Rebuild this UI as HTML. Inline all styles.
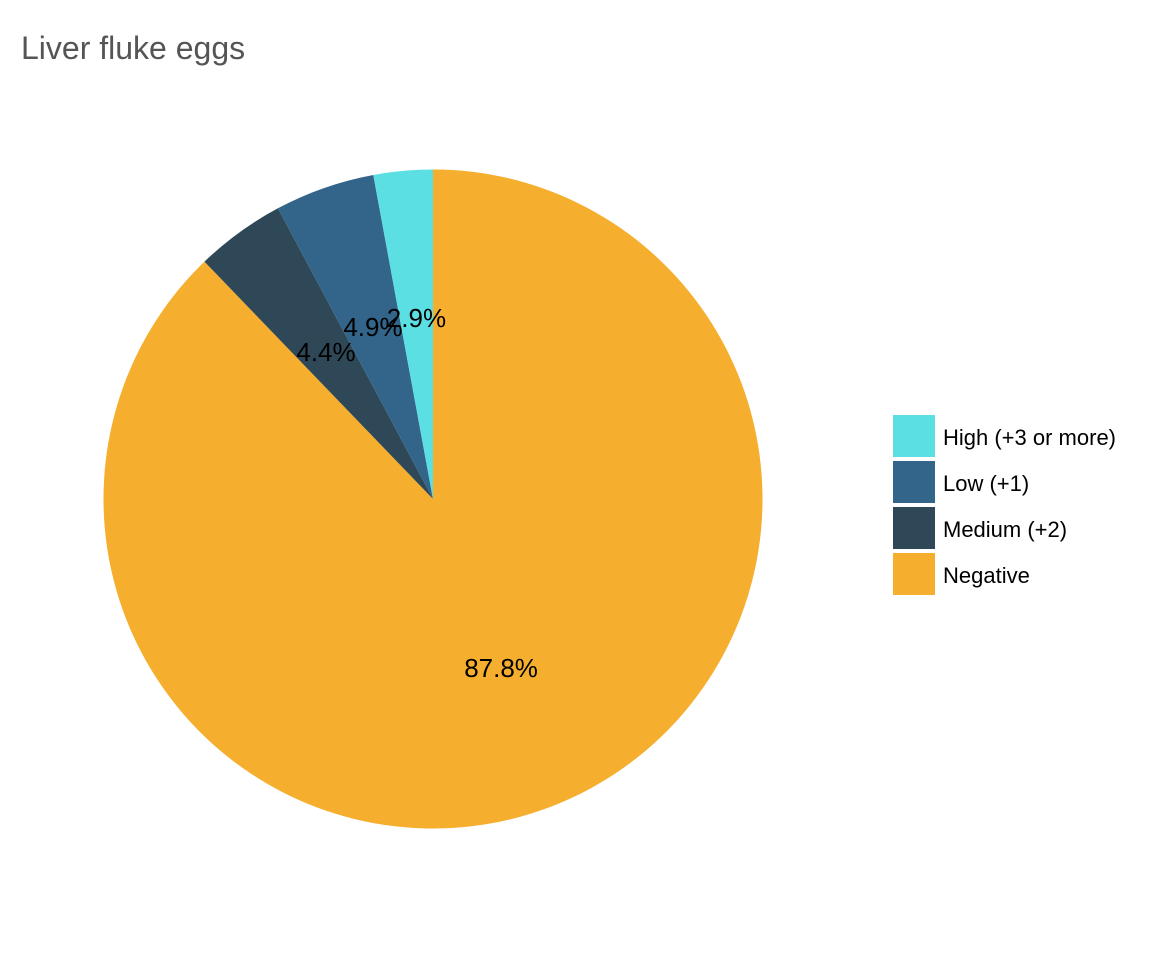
<!DOCTYPE html>
<html><head><meta charset="utf-8"><style>
body{margin:0;background:#fff;}
svg text{font-family:"Liberation Sans",Arial,sans-serif;}
</style></head><body>
<svg id="chart" width="1152" height="960">
<text x="21" y="59" font-size="32" fill="#555">Liver fluke eggs</text>
<g id="slices"></g><g id="labels"></g><g id="legend"></g>
</svg>
<script>
const categories=["Negative","Medium (+2)","Low (+1)","High (+3 or more)"];
const values=[87.8,4.4,4.9,2.9];
const labelsText=["87.8%","4.4%","4.9%","2.9%"];
const legendOrder=["High (+3 or more)","Low (+1)","Medium (+2)","Negative"];
const colors={"Negative":"#F5AE2D","Medium (+2)":"#2F4858","Low (+1)":"#326589","High (+3 or more)":"#5BDFE2"};
const cx=433,cy=499,R=329.5,NS="http://www.w3.org/2000/svg";
const total=values.reduce((a,b)=>a+b,0);
function pt(a,r){return [cx+r*Math.sin(a),cy-r*Math.cos(a)];}
let acc=0;
const gS=document.getElementById('slices'),gL=document.getElementById('labels'),gG=document.getElementById('legend');
values.forEach((v,i)=>{
  const a0=acc/total*2*Math.PI;acc+=v;const a1=acc/total*2*Math.PI;
  const p0=pt(a0,R),p1=pt(a1,R);
  const p=document.createElementNS(NS,'path');
  p.setAttribute('d',`M${cx},${cy}L${p0[0]},${p0[1]}A${R},${R} 0 ${a1-a0>Math.PI?1:0} 1 ${p1[0]},${p1[1]}Z`);
  p.setAttribute('fill',colors[categories[i]]);
  
  
  gS.appendChild(p);
  const m=(a0+a1)/2,lp=pt(m,182);
  const t=document.createElementNS(NS,'text');
  t.setAttribute('x',lp[0]);t.setAttribute('y',lp[1]+9);
  t.setAttribute('text-anchor','middle');t.setAttribute('font-size','26');
  t.textContent=labelsText[i];
  
  
  gL.appendChild(t);
});
legendOrder.forEach((c,i)=>{
  const y=415+i*46;
  const r=document.createElementNS(NS,'rect');
  r.setAttribute('x',893);r.setAttribute('y',y);r.setAttribute('width',42);r.setAttribute('height',42);
  r.setAttribute('fill',colors[c]);
  
  
  gG.appendChild(r);
  const t=document.createElementNS(NS,'text');
  t.setAttribute('x',943);t.setAttribute('y',y+30);t.setAttribute('font-size','22');
  t.textContent=c;
  
  
  gG.appendChild(t);
});
</script>
</body></html>
